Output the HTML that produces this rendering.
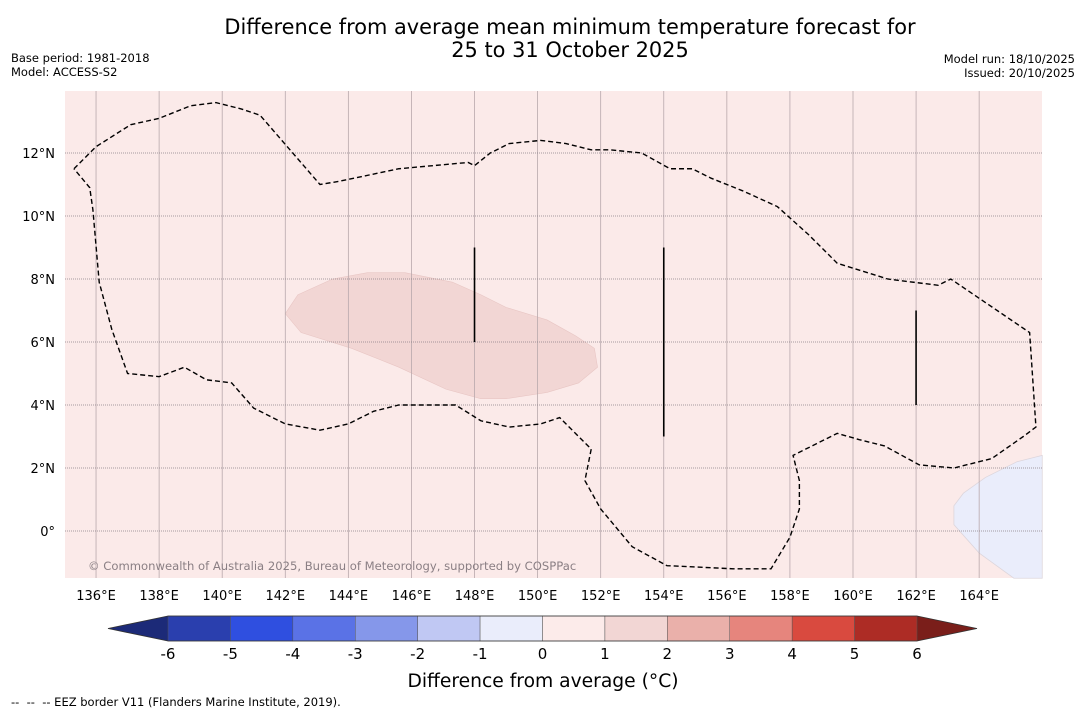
<!DOCTYPE html>
<html><head><meta charset="utf-8"><style>
body{margin:0;background:#fff;font-family:"DejaVu Sans","Liberation Sans",sans-serif;}
</style></head><body>
<svg id="c" width="1085" height="713" xmlns="http://www.w3.org/2000/svg" font-family="DejaVu Sans, Liberation Sans, sans-serif">
<text x="570" y="34" font-size="20.9" text-anchor="middle">Difference from average mean minimum temperature forecast for</text>
<text x="570" y="57" font-size="20.9" text-anchor="middle">25 to 31 October 2025</text>
<text x="11" y="62" font-size="11.5">Base period: 1981-2018</text>
<text x="11" y="76" font-size="11.5">Model: ACCESS-S2</text>
<text x="1075" y="63" font-size="11.5" text-anchor="end">Model run: 18/10/2025</text>
<text x="1075" y="77" font-size="11.5" text-anchor="end">Issued: 20/10/2025</text>
<g id="map"></g>
<g id="cbar"></g>
<text x="543" y="687" font-size="18.7" text-anchor="middle">Difference from average (°C)</text>
<text x="11" y="706" font-size="11.5" xml:space="preserve">--  --  -- EEZ border V11 (Flanders Marine Institute, 2019).</text>
</svg>
<script>
const lonTicks=[136,138,140,142,144,146,148,150,152,154,156,158,160,162,164];
const latTicks=[0,2,4,6,8,10,12];
const cbLevels=[-6,-5,-4,-3,-2,-1,0,1,2,3,4,5,6];
const cbColors=["#2a3fae","#2f4fe0","#5a72e6","#8597ea","#c0c8f3","#eaedfb","#fcebea","#f2d6d4","#eab0aa","#e6857d","#d94a3f","#ad2c25"];
const eezLon=[135.3,136,137.1,138,139,139.8,140.6,141.2,143.1,143.7,145.6,147.8,148,148.5,149.1,150.1,150.9,151.7,152.3,153.3,154.2,154.9,155.5,156.5,157.6,158.6,159.5,161.1,162.7,163.1,165.6,165.8,165.4,164.4,163.2,162.1,161,160.2,159.5,158.9,158.1,158.3,158.3,158,157.4,156.2,154.1,153,152,151.5,151.7,151.2,150.7,150.1,149.1,148.2,147.4,145.6,144.8,144,143.1,142,141,140.3,139.5,138.8,138,137,136.5,136.1,135.9,135.8,135.3];
const eezLat=[11.5,12.2,12.9,13.1,13.5,13.6,13.4,13.2,11,11.1,11.5,11.7,11.6,12,12.3,12.4,12.3,12.1,12.1,12,11.5,11.5,11.2,10.8,10.3,9.4,8.5,8,7.8,8,6.3,3.3,3,2.3,2,2.1,2.7,2.9,3.1,2.8,2.4,1.6,0.7,-0.2,-1.2,-1.2,-1.1,-0.5,0.7,1.6,2.6,3.1,3.6,3.4,3.3,3.5,4.0,4.0,3.8,3.4,3.2,3.4,3.9,4.7,4.8,5.2,4.9,5.0,6.4,7.9,10.2,10.9,11.5];
const warmLon=[142.4,143.5,144.6,145.8,147.3,148.2,149.0,150.3,151.2,151.8,151.9,151.3,150.3,149.0,148.2,147.1,145.6,144.1,142.5,142.0];
const warmLat=[7.5,8.0,8.2,8.2,7.9,7.5,7.1,6.7,6.2,5.8,5.2,4.7,4.4,4.2,4.2,4.5,5.2,5.8,6.3,6.9];
const coolLon=[166,165.2,164.2,163.5,163.2,163.2,164,165.1,166];
const coolLat=[2.4,2.2,1.7,1.2,0.8,0.2,-0.7,-1.5,-1.5];
const lineLon=[148,154,162];const lineTop=[9,9,7];const lineBot=[6,3,4];
const NS="http://www.w3.org/2000/svg";
const X0=65,X1=1042,Y0=91,Y1=578;
const x=l=>64.5+(l-135)*31.54;
const y=a=>531-a*31.5;
function mk(t,at,p){const e=document.createElementNS(NS,t);for(const k in at)e.setAttribute(k,at[k]);p.appendChild(e);return e;}
const map=document.getElementById('map');
const bg=mk('rect',{x:X0,y:Y0,width:X1-X0,height:Y1-Y0,fill:'#fbeae9'},map);


const wp=mk('polygon',{points:warmLon.map((l,i)=>x(l)+','+y(warmLat[i])).join(' '),fill:'#f2d6d4',stroke:'#e8c6c4','stroke-width':0.6},map);


const cp=mk('polygon',{points:coolLon.map((l,i)=>x(l)+','+y(coolLat[i])).join(' '),fill:'#eaedfb',stroke:'#ddd6dc','stroke-width':0.8},map);


lonTicks.forEach(l=>{
 const g=mk('line',{x1:x(l),x2:x(l),y1:Y0,y2:Y1,stroke:'#b8a8ac','stroke-width':0.8},map);
 
 
 const t=mk('text',{x:x(l),y:600,'font-size':13,'text-anchor':'middle'},map);t.textContent=l+'°E';
 
 
});
latTicks.forEach(a=>{
 const g=mk('line',{x1:X0,x2:X1,y1:y(a),y2:y(a),stroke:'#8a7f86','stroke-width':0.8,'stroke-dasharray':'1,1'},map);
 
 
 const t=mk('text',{x:55,y:y(a)+5,'font-size':13,'text-anchor':'end'},map);t.textContent=a===0?'0°':a+'°N';
 
 
});
const ez=mk('polyline',{points:eezLon.map((l,i)=>x(l)+','+y(eezLat[i])).join(' '),fill:'none',stroke:'#000','stroke-width':1.4,'stroke-dasharray':'5,3'},map);


lineLon.forEach((l,i)=>{
 const e=mk('line',{x1:x(l),x2:x(l),y1:y(lineTop[i]),y2:y(lineBot[i]),stroke:'#000','stroke-width':1.6},map);
 
 
});
const cr=mk('text',{x:88,y:570,'font-size':11.6,fill:'#8a7f84'},map);cr.textContent='© Commonwealth of Australia 2025, Bureau of Meteorology, supported by COSPPac';


const cb=document.getElementById('cbar');
const cx0=168,cx1=917,cy0=616,cy1=641;
const cw=(cx1-cx0)/(cbLevels.length-1);
const cxf=v=>cx0+(v-cbLevels[0])*cw;
const lt=mk('polygon',{points:`${cx0},${cy0} 108,${(cy0+cy1)/2} ${cx0},${cy1}`,fill:'#1c2a78'},cb);


const rt=mk('polygon',{points:`${cx1},${cy0} 977,${(cy0+cy1)/2} ${cx1},${cy1}`,fill:'#7a1e1a'},cb);


cbColors.forEach((c,i)=>{
 const r=mk('rect',{x:cxf(cbLevels[i]),y:cy0,width:cw,height:cy1-cy0,fill:c,stroke:'#555','stroke-width':0.5},cb);
 
 
});
const ol=mk('polygon',{points:`108,${(cy0+cy1)/2} ${cx0},${cy0} ${cx1},${cy0} 977,${(cy0+cy1)/2} ${cx1},${cy1} ${cx0},${cy1}`,fill:'none',stroke:'#333','stroke-width':0.8},cb);


cbLevels.forEach(v=>{
 const t=mk('text',{x:cxf(v),y:659,'font-size':15,'text-anchor':'middle'},cb);t.textContent=v;
 
 
});
</script>
</body></html>
